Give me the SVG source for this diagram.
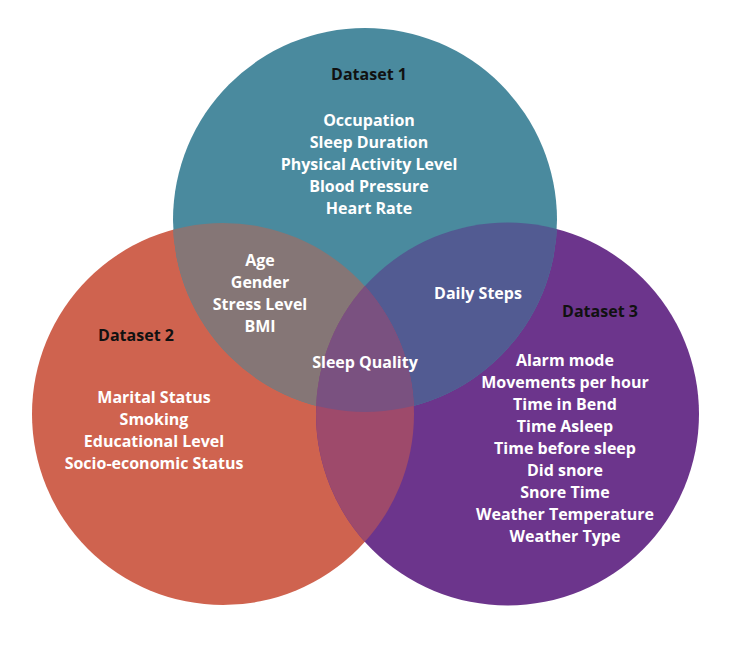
<svg xmlns="http://www.w3.org/2000/svg" width="741" height="645" viewBox="0 0 741 645">
<style>
.t{font-family:"Open Sans","Noto Sans","Liberation Sans",sans-serif;font-weight:700;font-size:16px;fill:#ffffff;text-anchor:middle}
.h{fill:#111111}
</style>
<defs>
<clipPath id="c1"><circle cx="365" cy="220" r="192"/></clipPath>
<clipPath id="c2"><circle cx="223" cy="414" r="191"/></clipPath>
<clipPath id="c3"><circle cx="507.5" cy="414" r="191.5"/></clipPath>
</defs>
<rect width="741" height="645" fill="#ffffff"/>
<g id="dataset2"><circle cx="223" cy="414" r="191" fill="#cf634f"/></g>
<g id="dataset3"><circle cx="507.5" cy="414" r="191.5" fill="#6c358c"/></g>
<g id="dataset1"><circle cx="365" cy="220" r="192" fill="#4a8a9e"/></g>
<g id="overlaps">
<g clip-path="url(#c2)"><circle cx="365" cy="220" r="192" fill="#857676"/></g>
<g clip-path="url(#c3)"><circle cx="365" cy="220" r="192" fill="#525b92"/></g>
<g clip-path="url(#c3)"><circle cx="223" cy="414" r="191" fill="#9e4a6b"/></g>
<g clip-path="url(#c1)"><g clip-path="url(#c2)"><circle cx="507.5" cy="414" r="191.5" fill="#7a5180"/></g></g>
</g>
<g id="labels">
<text class="t h" x="369" y="80">Dataset 1</text>
<text class="t" x="369" y="126">Occupation</text>
<text class="t" x="369" y="148">Sleep Duration</text>
<text class="t" x="369" y="170">Physical Activity Level</text>
<text class="t" x="369" y="192">Blood Pressure</text>
<text class="t" x="369" y="214">Heart Rate</text>
<text class="t h" x="136" y="341">Dataset 2</text>
<text class="t" x="154" y="403">Marital Status</text>
<text class="t" x="154" y="425">Smoking</text>
<text class="t" x="154" y="447">Educational Level</text>
<text class="t" x="154" y="469">Socio-economic Status</text>
<text class="t" x="260" y="266">Age</text>
<text class="t" x="260" y="288">Gender</text>
<text class="t" x="260" y="310">Stress Level</text>
<text class="t" x="260" y="332">BMI</text>
<text class="t" x="365" y="368">Sleep Quality</text>
<text class="t" x="478" y="299">Daily Steps</text>
<text class="t h" x="600" y="317">Dataset 3</text>
<text class="t" x="565" y="366">Alarm mode</text>
<text class="t" x="565" y="388">Movements per hour</text>
<text class="t" x="565" y="410">Time in Bend</text>
<text class="t" x="565" y="432">Time Asleep</text>
<text class="t" x="565" y="454">Time before sleep</text>
<text class="t" x="565" y="476">Did snore</text>
<text class="t" x="565" y="498">Snore Time</text>
<text class="t" x="565" y="520">Weather Temperature</text>
<text class="t" x="565" y="542">Weather Type</text>
</g>
</svg>
